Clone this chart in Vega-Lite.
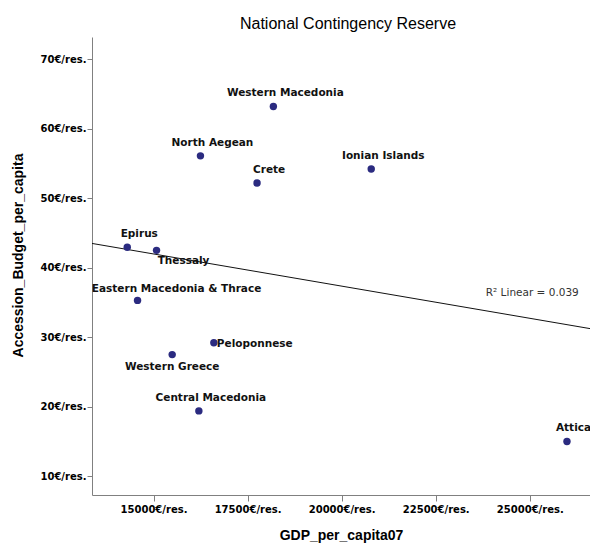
{
  "$schema": "https://vega.github.io/schema/vega-lite/v6.json",
  "width": 498,
  "height": 458,
  "autosize": {"type": "none"},
  "padding": {"left": 92, "top": 37, "right": 0, "bottom": 48},
  "background": "white",
  "config": {"view": {"stroke": null}},
  "title": {
    "text": "National Contingency Reserve",
    "font": "Liberation Sans",
    "fontSize": 16,
    "fontWeight": "normal",
    "color": "#000",
    "anchor": "middle",
    "dx": 7,
    "offset": 5
  },
  "data": {
    "values": [
      {"region": "Western Macedonia", "gdp": 18185, "budget": 63.2},
      {"region": "North Aegean", "gdp": 16247, "budget": 56.1},
      {"region": "Crete", "gdp": 17752, "budget": 52.2},
      {"region": "Ionian Islands", "gdp": 20786, "budget": 54.2},
      {"region": "Epirus", "gdp": 14302, "budget": 42.95},
      {"region": "Thessaly", "gdp": 15080, "budget": 42.5},
      {"region": "Eastern Macedonia & Thrace", "gdp": 14575, "budget": 35.3},
      {"region": "Peloponnese", "gdp": 16603, "budget": 29.2},
      {"region": "Western Greece", "gdp": 15496, "budget": 27.5},
      {"region": "Central Macedonia", "gdp": 16205, "budget": 19.4},
      {"region": "Attica", "gdp": 25988, "budget": 15.0}
    ]
  },
  "encoding": {
    "x": {
      "field": "gdp",
      "type": "quantitative",
      "scale": {"domain": [13365, 26600], "nice": false, "zero": false},
      "axis": {
        "title": "GDP_per_capita07",
        "values": [15000, 17500, 20000, 22500, 25000],
        "labelExpr": "datum.value + '€/res.'",
        "grid": false,
        "domainColor": "#808080",
        "tickColor": "#808080",
        "tickSize": 6,
        "labelFont": "DejaVu Sans",
        "labelFontWeight": "bold",
        "labelFontSize": 10,
        "labelColor": "#000",
        "labelPadding": 3,
        "titleFont": "Liberation Sans",
        "titleFontSize": 14,
        "titleFontWeight": "bold",
        "titleColor": "#000",
        "titleX": 249,
        "titleY": 40,
        "titleBaseline": "middle"
      }
    },
    "y": {
      "field": "budget",
      "type": "quantitative",
      "scale": {"domain": [7.3, 73.2], "nice": false, "zero": false},
      "axis": {
        "title": "Accession_Budget_per_capita",
        "values": [10, 20, 30, 40, 50, 60, 70],
        "labelExpr": "datum.value + '€/res.'",
        "grid": false,
        "domainColor": "#808080",
        "tickColor": "#808080",
        "tickSize": 5,
        "labelFont": "DejaVu Sans",
        "labelFontWeight": "bold",
        "labelFontSize": 10,
        "labelColor": "#000",
        "labelPadding": 1,
        "titleFont": "Liberation Sans",
        "titleFontSize": 14,
        "titleFontWeight": "bold",
        "titleColor": "#000",
        "titleX": -74,
        "titleY": 218,
        "titleBaseline": "middle"
      }
    }
  },
  "layer": [
    {
      "transform": [{"regression": "budget", "on": "gdp", "extent": [13365, 26600]}],
      "mark": {"type": "line", "color": "#111", "strokeWidth": 1, "clip": true}
    },
    {
      "mark": {"type": "circle", "size": 55, "color": "#2b2b80", "opacity": 1}
    },
    {
      "transform": [{"filter": {"field": "region", "oneOf": ["Western Macedonia", "North Aegean", "Crete", "Ionian Islands", "Epirus", "Central Macedonia"]}}],
      "mark": {"type": "text", "font": "DejaVu Sans", "fontWeight": "bold", "fontSize": 10.5, "color": "#111", "dx": 12, "dy": -13, "baseline": "middle"},
      "encoding": {"text": {"field": "region"}}
    },
    {
      "transform": [{"filter": {"field": "region", "equal": "Attica"}}],
      "mark": {"type": "text", "font": "DejaVu Sans", "fontWeight": "bold", "fontSize": 10.5, "color": "#111", "align": "left", "dx": -11, "dy": -13, "baseline": "middle"},
      "encoding": {"text": {"field": "region"}}
    },
    {
      "transform": [{"filter": {"field": "region", "equal": "Thessaly"}}],
      "mark": {"type": "text", "font": "DejaVu Sans", "fontWeight": "bold", "fontSize": 10.5, "color": "#111", "dx": 27, "dy": 11, "baseline": "middle"},
      "encoding": {"text": {"field": "region"}}
    },
    {
      "transform": [{"filter": {"field": "region", "equal": "Eastern Macedonia & Thrace"}}],
      "mark": {"type": "text", "font": "DejaVu Sans", "fontWeight": "bold", "fontSize": 10.5, "color": "#111", "dx": 39, "dy": -11, "baseline": "middle"},
      "encoding": {"text": {"field": "region"}}
    },
    {
      "transform": [{"filter": {"field": "region", "equal": "Peloponnese"}}],
      "mark": {"type": "text", "font": "DejaVu Sans", "fontWeight": "bold", "fontSize": 10.5, "color": "#111", "align": "left", "dx": 3, "dy": 1, "baseline": "middle"},
      "encoding": {"text": {"field": "region"}}
    },
    {
      "transform": [{"filter": {"field": "region", "equal": "Western Greece"}}],
      "mark": {"type": "text", "font": "DejaVu Sans", "fontWeight": "bold", "fontSize": 10.5, "color": "#111", "dx": 0, "dy": 12, "baseline": "middle"},
      "encoding": {"text": {"field": "region"}}
    },
    {
      "data": {"values": [{"gdp": 23830, "budget": 36.3, "label": "R² Linear = 0.039"}]},
      "mark": {"type": "text", "font": "DejaVu Sans", "fontSize": 10.5, "color": "#333", "align": "left", "baseline": "middle"},
      "encoding": {"text": {"field": "label"}}
    }
  ]
}
